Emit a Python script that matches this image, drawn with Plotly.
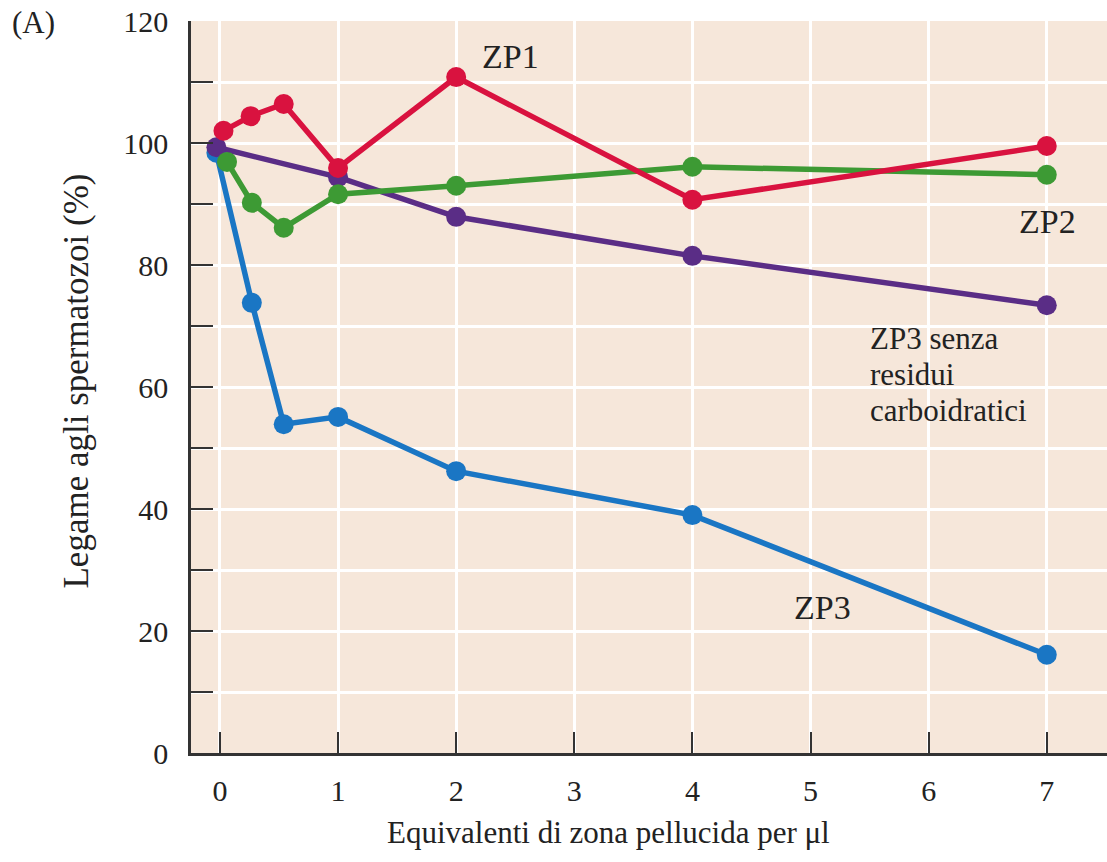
import plotly.graph_objects as go

# Data
zp1_x = [0.03, 0.26, 0.54, 1.0, 2.0, 4.0, 7.0]
zp1_y = [102.0, 104.4, 106.4, 95.9, 110.8, 90.7, 99.5]

zp2_x = [0.06, 0.27, 0.54, 1.0, 2.0, 4.0, 7.0]
zp2_y = [96.9, 90.2, 86.1, 91.6, 93.0, 96.1, 94.8]

zp3nc_x = [-0.03, 1.0, 2.0, 4.0, 7.0]
zp3nc_y = [99.3, 94.4, 87.9, 81.5, 73.4]

zp3_x = [-0.03, 0.27, 0.54, 1.0, 2.0, 4.0, 7.0]
zp3_y = [98.4, 73.8, 53.9, 55.1, 46.2, 39.0, 16.1]

x_ticks = [0, 1, 2, 3, 4, 5, 6, 7]
y_ticks = [0, 20, 40, 60, 80, 100, 120]

FONT = "Liberation Serif"
BLUE = "#1a76c4"
PURPLE = "#5a2d86"
GREEN = "#3d9a34"
RED = "#d9123f"
INK = "#222"

fig = go.Figure()

def add(xs, ys, color):
    fig.add_trace(go.Scatter(
        x=xs, y=ys, mode="lines+markers",
        line=dict(color=color, width=5.5),
        marker=dict(color=color, size=20),
        showlegend=False, cliponaxis=False))

add(zp3_x, zp3_y, BLUE)
add(zp3nc_x, zp3nc_y, PURPLE)
add(zp2_x, zp2_y, GREEN)
add(zp1_x, zp1_y, RED)

tfont = dict(family=FONT, size=30, color=INK)

fig.update_layout(
    width=1107, height=862,
    margin=dict(l=191, r=0, t=21, b=109),
    paper_bgcolor="white",
    plot_bgcolor="#f6e7da",
    font=dict(family=FONT, size=30, color=INK),
    xaxis=dict(
        range=[-0.245, 7.51], tickvals=x_ticks, ticktext=[str(v) for v in x_ticks],
        ticks="inside", ticklen=21, tickwidth=1.5, tickcolor="#333",
        showline=True, linecolor="#333", linewidth=2.5,
        showgrid=True, gridcolor="white", gridwidth=3,
        zeroline=False, tickfont=tfont, ticklabelstandoff=9,
        ticklabeloverflow="allow", automargin=False,
    ),
    yaxis=dict(
        range=[0, 120], tickvals=y_ticks,
        ticks="inside", ticklen=22, tickwidth=1.5, tickcolor="#333",
        showline=True, linecolor="#333", linewidth=2.5,
        showgrid=True, gridcolor="white", gridwidth=3,
        zeroline=False, tickfont=tfont, ticklabelstandoff=14,
        ticklabeloverflow="allow", automargin=False,
        minor=dict(dtick=10, ticks="inside", ticklen=22, tickwidth=1.5,
                   tickcolor="#333", showgrid=True, gridcolor="white", gridwidth=3),
    ),
)

lab = dict(showarrow=False, font=dict(family=FONT, size=34, color=INK))
fig.add_annotation(text="ZP1", x=2.456, y=114.1, xanchor="center", yanchor="middle", **lab)
fig.add_annotation(text="ZP2", x=7.01, y=87.2, xanchor="center", yanchor="middle", **lab)
fig.add_annotation(text="ZP3", x=5.10, y=23.9, xanchor="center", yanchor="middle", **lab)

lab2 = dict(showarrow=False, font=dict(family=FONT, size=31, color=INK))
for txt, yy in [("ZP3 senza", 67.9), ("residui", 62.0), ("carboidratici", 56.1)]:
    fig.add_annotation(text=txt, x=5.49, y=yy, xanchor="left", yanchor="middle", **lab2)

fig.add_annotation(text="(A)", xref="paper", yref="paper", x=0, y=1,
                   xshift=-158, yshift=-1, xanchor="center", yanchor="middle",
                   showarrow=False, font=dict(family=FONT, size=31, color=INK))
fig.add_annotation(text="Legame agli spermatozoi (%)", xref="paper", yref="paper",
                   x=0, y=0.5075, xshift=-114, textangle=-90,
                   xanchor="center", yanchor="middle",
                   showarrow=False, font=dict(family=FONT, size=35, color=INK))
fig.add_annotation(text="Equivalenti di zona pellucida per μl", xref="x", yref="paper",
                   x=3.29, y=0, yshift=-79, xanchor="center", yanchor="middle",
                   showarrow=False, font=dict(family=FONT, size=31, color=INK))

fig.write_html("out.html",
               config={"displayModeBar": False},
               post_script="document.body.style.margin='0';document.body.style.overflow='hidden';")
